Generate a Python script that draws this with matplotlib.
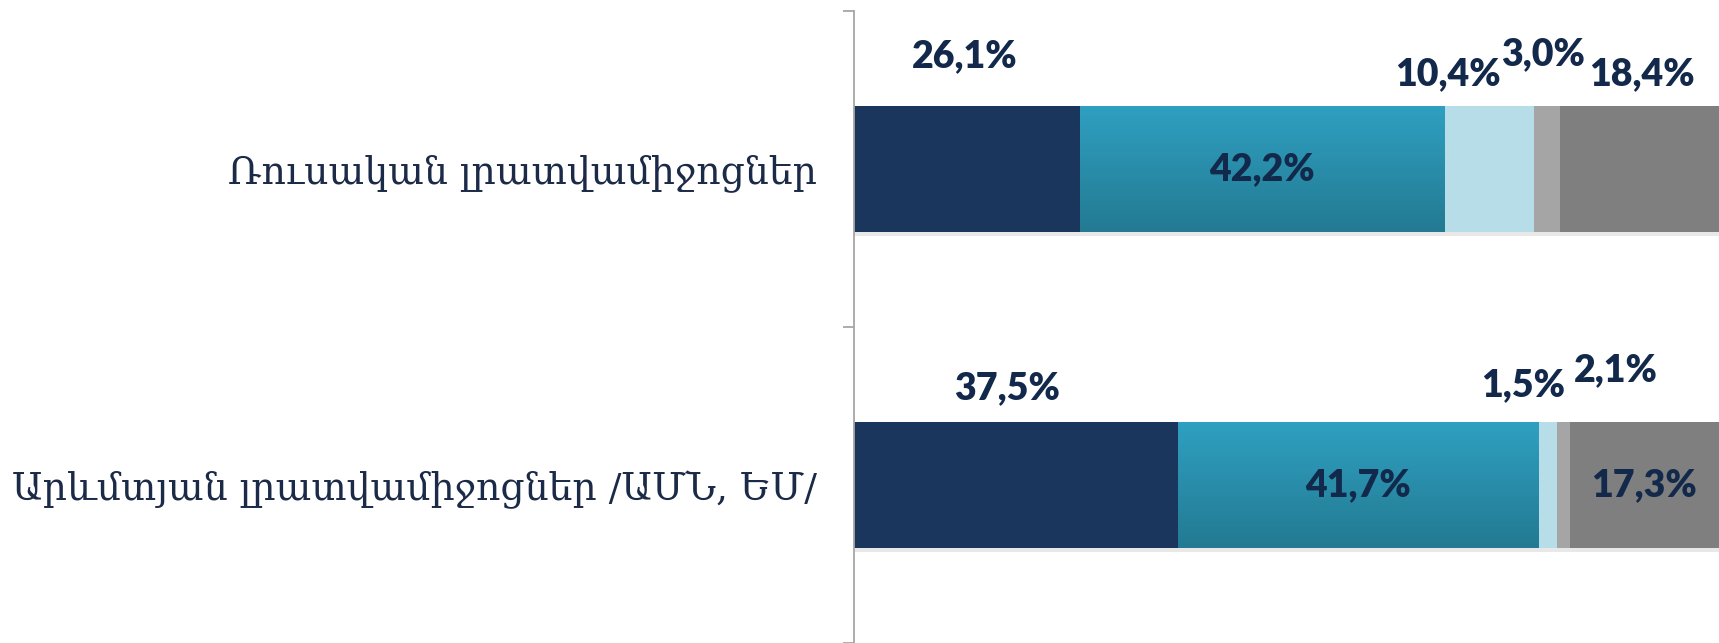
import numpy as np
import matplotlib
import matplotlib.pyplot as plt
import matplotlib.patheffects as pe
from matplotlib.colors import LinearSegmentedColormap

# categories, bottom to top
categories = ['Արևմտյան լրատվամիջոցներ /ԱՄՆ, ԵՄ/', 'Ռուսական լրատվամիջոցներ']

dark_vals = [37.5, 26.1]
teal_vals = [41.7, 42.2]
light_vals = [2.1, 10.4]
gray_vals = [1.5, 3.0]
dgray_vals = [17.3, 18.4]

series = [dark_vals, teal_vals, light_vals, gray_vals, dgray_vals]
colors = ['#1a365d', '#2c9abb', '#b7dde8', '#a5a5a5', '#7f7f7f']

# label placement per series/category: None = inside bar, else (dx, dy) in px from bar top centre
label_offsets = [
    [(-9, 34), (-2, 50)],
    [None, None],
    [(68, 52), (-41, 32)],
    [(-40, 37), (-4, 52)],
    [None, (2, 32)],
]

TXT = '#13294b'
fig = plt.figure(figsize=(17.19, 6.43), dpi=100)
ax = fig.add_axes([854 / 1719, 0, 1 - 854 / 1719, 632 / 643])

bar_h = 0.4
y = np.arange(len(categories))
left = np.zeros(len(categories))
shadow = [pe.SimplePatchShadow(offset=(1, -2.5), shadow_rgbFace='k', alpha=0.09), pe.Normal()]
teal_cmap = LinearSegmentedColormap.from_list('teal', ['#2fa0c1', '#237a92'])
lab_kw = dict(fontsize=27, fontweight='heavy', family='Lato', color=TXT, zorder=5)

for si, vals in enumerate(series):
    bars = ax.barh(y, vals, left=left, height=bar_h, color=colors[si], linewidth=0, zorder=2)
    for b in bars:
        b.set_path_effects(shadow)
    if si == 1:
        for b in bars:
            x0, y0 = b.get_x(), b.get_y()
            grad = np.linspace(0, 1, 100).reshape(-1, 1)
            im = ax.imshow(grad, cmap=teal_cmap, aspect='auto', origin='upper',
                           extent=(x0, x0 + b.get_width(), y0, y0 + b.get_height()), zorder=3)
            im.set_clip_path(b)
    for ci, v in enumerate(vals):
        txt = f'{v:.1f}%'.replace('.', ',')
        cx = left[ci] + v / 2
        off = label_offsets[si][ci]
        if off is None:
            ax.text(cx, y[ci], txt, ha='center', va='center', **lab_kw)
        else:
            ax.annotate(txt, xy=(cx, y[ci] + bar_h / 2), xytext=(off[0] * 0.72, off[1] * 0.72),
                        textcoords='offset points', ha='center', va='center', **lab_kw)
    left = left + np.array(vals)

ax.set_xlim(0, 100.1)
ax.set_ylim(-0.5, 1.5)
ax.set_xticks([])
ax.set_yticks([-0.5, 0.5, 1.5])
ax.set_yticklabels([])
ax.set_yticks(y, minor=True)
ax.set_yticklabels(categories, minor=True, family=['DejaVu Serif', 'DejaVu Sans'],
                   fontsize=27.2, color='#1b2a47')
ax.tick_params(axis='y', which='major', length=8, color='#a6a6a6', width=1.3)
ax.tick_params(axis='y', which='minor', length=0, pad=27)
for s in ['top', 'right', 'bottom']:
    ax.spines[s].set_visible(False)
ax.spines['left'].set_color('#a6a6a6')
ax.spines['left'].set_linewidth(1.3)

fig.savefig('out.png', dpi=100)
